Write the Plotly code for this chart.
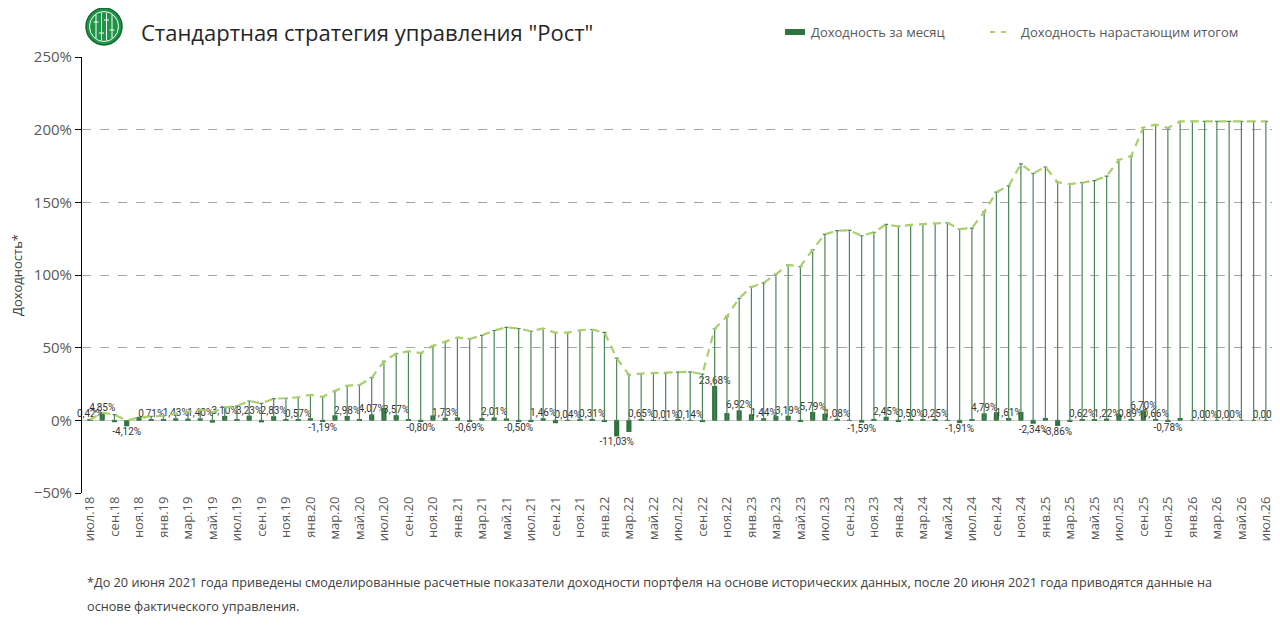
import plotly.graph_objects as go

# the page puts the figure 8px in from the top-left corner
OFF = 8
W, H = 1280 - OFF, 631 - OFF
L, R, T, B = 82 - OFF, 8, 57 - OFF, 138

# months июл.18 .. июл.26
month_names = ['янв', 'фев', 'мар', 'апр', 'май', 'июн',
               'июл', 'авг', 'сен', 'окт', 'ноя', 'дек']
months = []
for k in range(97):
    m = (6 + k) % 12
    y = 18 + (6 + k) // 12
    months.append(f"{month_names[m]}.{y}")

# monthly return, %
monthly = [
    0.42, 4.85, -1.3, -4.12, 2.2, 0.71, 0.3, 1.43, 1.2, 1.40,
    -1.6, 3.10, 0.8, 3.23, -1.4, 2.83, 0.3, 0.57, 1.5, -1.19,
    3.5, 2.98, 0.3, 4.07, 8.6, 3.57, 0.8, -0.80, 3.4, 1.73,
    2.0, -0.69, 1.6, 2.01, 1.3, -0.50, -1.2, 1.46, -2.0, 0.04,
    1.0, 0.31, -1.2, -11.03, -8.0, 0.65, 0.2, 0.01, 0.5, 0.14,
    -1.2, 23.68, 5.0, 6.92, 4.2, 1.44, 2.9, 3.19, -0.6, 5.79,
    4.6, 1.08, 0.1, -1.59, 1.0, 2.45, -0.6, 0.50, 0.3, 0.25,
    0.2, -1.91, 0.3, 4.79, 5.6, 1.61, 5.8, -2.34, 1.6, -3.86,
    -0.5, 0.62, 0.6, 1.22, 4.2, 0.89, 6.70, 0.66, -0.78, 1.6,
    0.0, 0.0, 0.0, 0.0, 0.0, 0.0, 0.0,
]

# cumulative return, %
cumulative = [
    0.42, 5.3, 3.9, -0.2, 2.1, 2.8, 3.1, 4.6, 5.8, 7.3,
    5.6, 8.9, 9.8, 13.3, 11.7, 14.9, 15.2, 15.9, 17.6, 16.2,
    20.3, 23.9, 24.3, 29.4, 40.5, 46.0, 47.5, 46.3, 51.3, 53.9,
    57.0, 56.0, 58.5, 61.8, 64.0, 63.2, 61.3, 63.2, 60.3, 60.4,
    62.0, 62.5, 60.5, 42.8, 31.4, 32.2, 32.5, 32.5, 33.2, 33.4,
    31.8, 63.0, 71.5, 84.0, 91.8, 94.6, 100.5, 107.0, 105.8, 117.5,
    128.0, 130.5, 130.7, 127.0, 129.4, 134.8, 133.4, 134.5, 135.0, 135.5,
    135.9, 131.6, 132.3, 143.4, 157.0, 161.3, 176.4, 170.0, 174.3, 163.8,
    162.5, 163.5, 165.0, 168.0, 179.3, 181.8, 201.5, 203.5, 201.2, 205.7,
    205.7, 205.7, 205.7, 205.7, 205.7, 205.7, 205.7,
]

# months whose value is printed on the chart
labelled = [0, 1, 3, 5, 7, 9, 11, 13, 15, 17, 19, 21, 23, 25, 27, 29, 31,
            33, 35, 37, 39, 41, 43, 45, 47, 49, 51, 53, 55, 57, 59, 61, 63,
            65, 67, 69, 71, 73, 75, 77, 79, 81, 83, 85, 86, 87, 88, 91, 93, 96]

bar_text = [f"{v:.2f}%".replace('.', ',') if i in labelled else ''
            for i, v in enumerate(monthly)]

BAR_COLOR = '#2f7440'
LINE_COLOR = '#a9d06b'
TEXT_COLOR = '#595959'


# page pixel -> paper coordinate
def px_x(p):
    return (p - OFF - L) / (W - L - R)


def px_y(p):
    return (H - B - (p - OFF)) / (H - T - B)


fig = go.Figure()

fig.add_trace(go.Bar(
    x=months, y=monthly,
    name='Доходность за месяц',
    marker=dict(color=BAR_COLOR, line=dict(width=0)),
    text=bar_text,
    textposition='outside',
    constraintext='none',
    cliponaxis=False,
    textfont=dict(size=10, color='#333333', family='Roboto'),
))

fig.add_trace(go.Scatter(
    x=months, y=cumulative,
    name='Доходность нарастающим итогом',
    mode='lines',
    line=dict(color=LINE_COLOR, width=2.2, dash='8px,6px'),
    error_y=dict(type='data', symmetric=False,
                 array=[0] * len(cumulative),
                 arrayminus=[max(c, 0) for c in cumulative],
                 color='#4f8458', thickness=1.2, width=2),
))

fig.update_layout(
    width=W, height=H,
    margin=dict(l=L, r=R, t=T, b=B, autoexpand=False),
    paper_bgcolor='white', plot_bgcolor='white',
    font=dict(family='Open Sans', color=TEXT_COLOR),
    bargap=0.58,
    showlegend=False,
    xaxis=dict(
        type='category',
        range=[-0.65, 96.5],
        tickmode='array',
        tickvals=months[::2],
        ticktext=months[::2],
        tickangle=-90,
        tickfont=dict(size=13, color=TEXT_COLOR),
        showgrid=False, showline=False, ticks='',
        zeroline=False, automargin=False,
    ),
    yaxis=dict(
        range=[-50, 250],
        dtick=50,
        ticksuffix='%',
        tickfont=dict(size=15, color=TEXT_COLOR),
        showgrid=True, gridcolor='#a6a6a6', griddash='dash', gridwidth=1,
        zeroline=True, zerolinecolor='#c8c8c8', zerolinewidth=1,
        showline=True, linecolor='#000000', linewidth=1,
        ticks='outside', ticklen=6, tickcolor='#000000',
        automargin=False,
    ),
)

# legend drawn by hand
fig.add_shape(type='rect', xref='paper', yref='paper',
              x0=px_x(785), x1=px_x(805), y0=px_y(35), y1=px_y(29),
              fillcolor=BAR_COLOR, line=dict(width=0))
fig.add_annotation(
    x=px_x(809), y=px_y(32), xref='paper', yref='paper',
    xanchor='left', yanchor='middle', showarrow=False,
    text='Доходность за месяц', font=dict(size=13, color=TEXT_COLOR),
)
fig.add_shape(type='line', xref='paper', yref='paper',
              x0=px_x(990), x1=px_x(1008), y0=px_y(32), y1=px_y(32),
              line=dict(color=LINE_COLOR, width=2, dash='5px,6px'))
fig.add_annotation(
    x=px_x(1019), y=px_y(32), xref='paper', yref='paper',
    xanchor='left', yanchor='middle', showarrow=False,
    text='Доходность нарастающим итогом', font=dict(size=13, color=TEXT_COLOR),
)

# title and notes
fig.add_annotation(
    x=px_x(139), y=px_y(32), xref='paper', yref='paper',
    xanchor='left', yanchor='middle', showarrow=False,
    text='Стандартная стратегия управления "Рост"',
    font=dict(size=22, color='#262626'),
)
fig.add_annotation(
    x=px_x(17), y=px_y(275), xref='paper', yref='paper',
    xanchor='center', yanchor='middle',
    textangle=-90, showarrow=False,
    text='Доходность*', font=dict(size=13, color='#404040'),
)
fig.add_annotation(
    x=px_x(85), y=px_y(582), xref='paper', yref='paper',
    xanchor='left', yanchor='middle', showarrow=False,
    text='*До 20 июня 2021 года приведены смоделированные расчетные показатели '
         'доходности портфеля на основе исторических данных, после 20 июня 2021 '
         'года приводятся данные на',
    font=dict(size=12.7, color='#404040'),
)
fig.add_annotation(
    x=px_x(85), y=px_y(606), xref='paper', yref='paper',
    xanchor='left', yanchor='middle', showarrow=False,
    text='основе фактического управления.',
    font=dict(size=12.7, color='#404040'),
)

# logo: green disc with white line pattern
fig.add_shape(type='circle', xref='paper', yref='paper',
              x0=px_x(86), x1=px_x(122), y0=px_y(45), y1=px_y(8),
              fillcolor='#1f9447', line=dict(color='#0f6b30', width=1.5))
fig.add_shape(type='circle', xref='paper', yref='paper',
              x0=px_x(89.5), x1=px_x(118.5), y0=px_y(41.5), y1=px_y(11.5),
              fillcolor='rgba(0,0,0,0)', line=dict(color='white', width=1))
for lx, ya, yb in [(96, 15, 38), (101.5, 13, 40), (106.5, 13, 40), (112, 15, 38)]:
    fig.add_shape(type='line', xref='paper', yref='paper',
                  x0=px_x(lx), x1=px_x(lx), y0=px_y(ya), y1=px_y(yb),
                  line=dict(color='white', width=1))
for lx, ly in [(96, 22), (101.5, 33), (106.5, 20), (112, 30)]:
    fig.add_shape(type='line', xref='paper', yref='paper',
                  x0=px_x(lx - 2.5), x1=px_x(lx + 2.5), y0=px_y(ly), y1=px_y(ly),
                  line=dict(color='white', width=1))

fig.write_html("out.html")
